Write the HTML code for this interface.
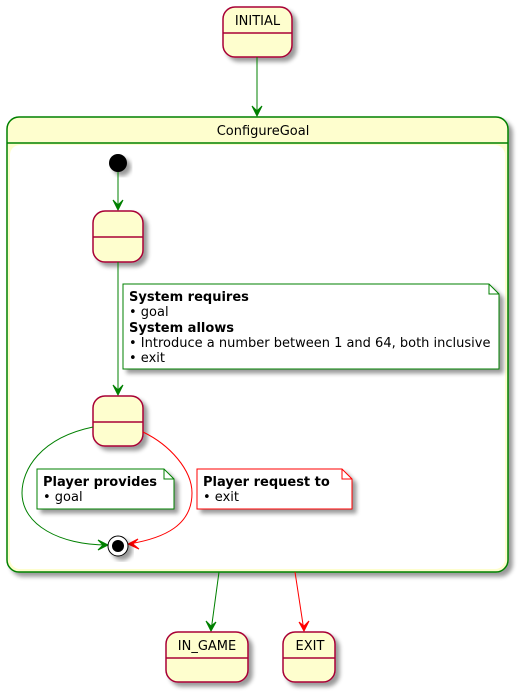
<!DOCTYPE html>
<html><head><style>body{margin:0;background:#fff}svg{display:block}text{font-family:"DejaVu Sans","Liberation Sans",sans-serif;font-size:13px;fill:#000}.b{font-weight:bold}</style></head>
<body>
<svg width="519" height="695" viewBox="0 0 519 695" xmlns="http://www.w3.org/2000/svg">
<defs><filter id="sh" x="-20%" y="-20%" width="150%" height="150%"><feGaussianBlur in="SourceAlpha" stdDeviation="2"/><feOffset dx="4" dy="4"/><feComponentTransfer><feFuncA type="linear" slope="0.4"/></feComponentTransfer><feMerge><feMergeNode/><feMergeNode in="SourceGraphic"/></feMerge></filter></defs>
<!-- INITIAL -->
<rect x="223" y="7" width="69" height="50" rx="12" fill="#FEFECE" stroke="#A80036" stroke-width="1.5" filter="url(#sh)"/>
<line x1="223" y1="33" x2="292" y2="33" stroke="#A80036" stroke-width="1.5"/>
<text x="257.5" y="25" text-anchor="middle">INITIAL</text>
<line x1="257" y1="57" x2="257" y2="116" stroke="green"/>
<path d="M252,106 L257,116 L262,106 L257,111 Z" fill="green" stroke="green"/>
<!-- ConfigureGoal -->
<rect x="7" y="117" width="501" height="455" rx="12" fill="#FEFECE" stroke="green" stroke-width="1.5" filter="url(#sh)"/>
<rect x="10" y="145" width="495" height="424" rx="10" fill="#fff"/>
<line x1="7" y1="143" x2="508" y2="143" stroke="green" stroke-width="1.5"/>
<text x="263" y="135" text-anchor="middle">ConfigureGoal</text>
<!-- start -->
<circle cx="118" cy="163" r="9" fill="#000" filter="url(#sh)"/>
<line x1="118" y1="172" x2="118" y2="210" stroke="green"/>
<path d="M113,200 L118,210 L123,200 L118,205 Z" fill="green" stroke="green"/>
<!-- state1 -->
<rect x="93" y="211" width="50" height="51" rx="12" fill="#FEFECE" stroke="#A80036" stroke-width="1.5" filter="url(#sh)"/>
<line x1="93" y1="237" x2="143" y2="237" stroke="#A80036" stroke-width="1.5"/>
<line x1="118" y1="262" x2="118" y2="395" stroke="green"/>
<path d="M113,385 L118,395 L123,385 L118,390 Z" fill="green" stroke="green"/>
<!-- note1 -->
<path d="M123,284 L489,284 L499,294 L499,369 L123,369 Z" fill="#fff" stroke="green" filter="url(#sh)"/>
<path d="M489,284 L489,294 L499,294" fill="none" stroke="green"/>
<text x="129" y="301" class="b">System requires</text>
<text x="129" y="316">• goal</text>
<text x="129" y="332" class="b">System allows</text>
<text x="129" y="347">• Introduce a number between 1 and 64, both inclusive</text>
<text x="129" y="362">• exit</text>
<!-- state2 -->
<rect x="93" y="396" width="50" height="50" rx="12" fill="#FEFECE" stroke="#A80036" stroke-width="1.5" filter="url(#sh)"/>
<line x1="93" y1="422" x2="143" y2="422" stroke="#A80036" stroke-width="1.5"/>
<!-- curves -->
<path d="M93,427 C40,438 22,470 22,493 C22,525 60,545 107,545" fill="none" stroke="green"/>
<path d="M98,540 L108,545 L98,550 L103,545 Z" fill="green" stroke="green"/>
<path d="M143,432 C170,445 192,470 192,493 C192,525 165,538 129,544" fill="none" stroke="red"/>
<path d="M138,539 L128,544 L139,549 L133,544 Z" fill="red" stroke="red"/>
<!-- end -->
<circle cx="118" cy="546" r="10" fill="#fff" stroke="#000" filter="url(#sh)"/>
<circle cx="118" cy="546" r="6" fill="#000"/>
<!-- note2 -->
<path d="M37,469 L164,469 L174,479 L174,509 L37,509 Z" fill="#fff" stroke="green" filter="url(#sh)"/>
<path d="M164,469 L164,479 L174,479" fill="none" stroke="green"/>
<text x="43" y="486" class="b">Player provides</text>
<text x="43" y="501">• goal</text>
<!-- note3 -->
<path d="M197,469 L342,469 L352,479 L352,509 L197,509 Z" fill="#fff" stroke="red" filter="url(#sh)"/>
<path d="M342,469 L342,479 L352,479" fill="none" stroke="red"/>
<text x="203" y="486" class="b">Player request to</text>
<text x="203" y="501">• exit</text>
<!-- bottom arrows -->
<line x1="219" y1="572" x2="211" y2="631" stroke="green"/>
<path d="M206,621 L211,631 L216,622 L211,626 Z" fill="green" stroke="green"/>
<line x1="295" y1="572" x2="304" y2="631" stroke="red"/>
<path d="M299,622 L304,631 L309,621 L304,626 Z" fill="red" stroke="red"/>
<!-- IN_GAME -->
<rect x="166" y="632" width="82" height="50" rx="12" fill="#FEFECE" stroke="#A80036" stroke-width="1.5" filter="url(#sh)"/>
<line x1="166" y1="658" x2="248" y2="658" stroke="#A80036" stroke-width="1.5"/>
<text x="207" y="650" text-anchor="middle">IN_GAME</text>
<!-- EXIT -->
<rect x="283" y="632" width="52" height="50" rx="12" fill="#FEFECE" stroke="#A80036" stroke-width="1.5" filter="url(#sh)"/>
<line x1="283" y1="658" x2="335" y2="658" stroke="#A80036" stroke-width="1.5"/>
<text x="310" y="650" text-anchor="middle">EXIT</text>
</svg>
</body></html>
